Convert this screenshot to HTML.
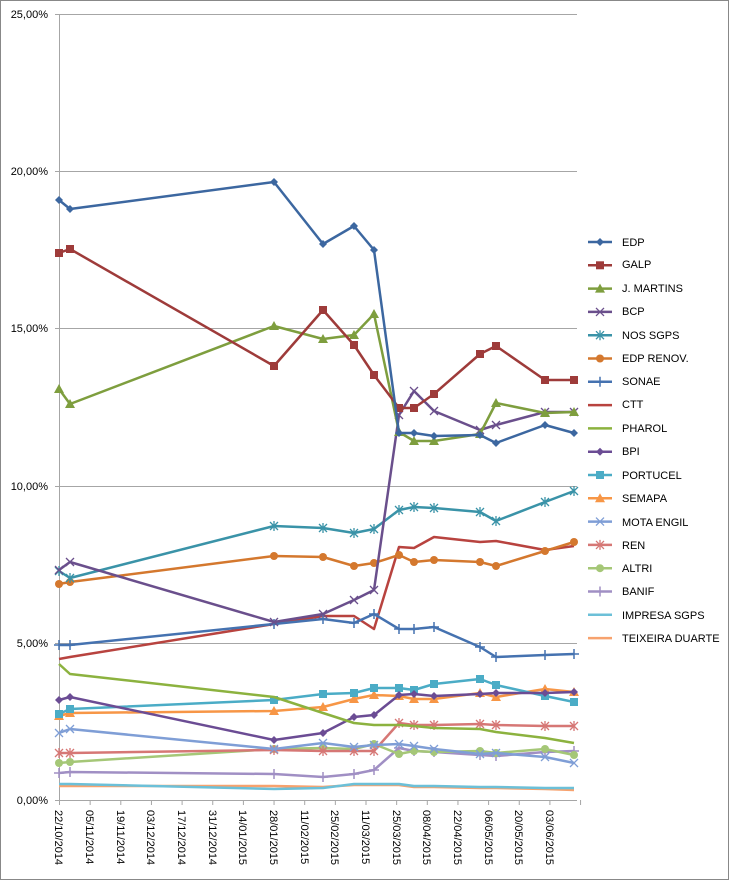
<!DOCTYPE html>
<html><head><meta charset="utf-8"><style>
html,body{margin:0;padding:0;background:#fff}
svg{display:block;font-family:"Liberation Sans",sans-serif}
</style></head><body>
<svg id="s" width="729" height="880" xmlns="http://www.w3.org/2000/svg">
<rect x="0.5" y="0.5" width="728" height="879" fill="#fff" stroke="#888"/>
<g stroke="#a6a6a6" stroke-width="1">
<line x1="55" y1="14.5" x2="577" y2="14.5"/>
<line x1="55" y1="171.5" x2="577" y2="171.5"/>
<line x1="55" y1="328.5" x2="577" y2="328.5"/>
<line x1="55" y1="486.5" x2="577" y2="486.5"/>
<line x1="55" y1="643.5" x2="577" y2="643.5"/>
<line x1="55" y1="800.5" x2="577" y2="800.5"/>
<line x1="59.5" y1="14" x2="59.5" y2="805"/>
</g>
<g id="ticks" stroke="#a6a6a6"></g>
<g font-size="11" fill="#000" text-anchor="end">
<text x="48" y="18">25,00%</text>
<text x="48" y="175">20,00%</text>
<text x="48" y="332">15,00%</text>
<text x="48" y="490">10,00%</text>
<text x="48" y="647">5,00%</text>
<text x="48" y="804">0,00%</text>
</g>
<g font-size="11" fill="#000">
<text transform="translate(55,810) rotate(90)">22/10/2014</text>
<text transform="translate(86,810) rotate(90)">05/11/2014</text>
<text transform="translate(117,810) rotate(90)">19/11/2014</text>
<text transform="translate(147,810) rotate(90)">03/12/2014</text>
<text transform="translate(178,810) rotate(90)">17/12/2014</text>
<text transform="translate(209,810) rotate(90)">31/12/2014</text>
<text transform="translate(239,810) rotate(90)">14/01/2015</text>
<text transform="translate(270,810) rotate(90)">28/01/2015</text>
<text transform="translate(301,810) rotate(90)">11/02/2015</text>
<text transform="translate(331,810) rotate(90)">25/02/2015</text>
<text transform="translate(362,810) rotate(90)">11/03/2015</text>
<text transform="translate(393,810) rotate(90)">25/03/2015</text>
<text transform="translate(423,810) rotate(90)">08/04/2015</text>
<text transform="translate(454,810) rotate(90)">22/04/2015</text>
<text transform="translate(485,810) rotate(90)">06/05/2015</text>
<text transform="translate(515,810) rotate(90)">20/05/2015</text>
<text transform="translate(546,810) rotate(90)">03/06/2015</text>
</g>
<g id="series"></g>
<g id="legend" font-size="11" fill="#000">
<text x="622" y="246">EDP</text>
<text x="622" y="268">GALP</text>
<text x="622" y="292">J. MARTINS</text>
<text x="622" y="315">BCP</text>
<text x="622" y="339">NOS SGPS</text>
<text x="622" y="362">EDP RENOV.</text>
<text x="622" y="385">SONAE</text>
<text x="622" y="408">CTT</text>
<text x="622" y="432">PHAROL</text>
<text x="622" y="455">BPI</text>
<text x="622" y="479">PORTUCEL</text>
<text x="622" y="502">SEMAPA</text>
<text x="622" y="526">MOTA ENGIL</text>
<text x="622" y="549">REN</text>
<text x="622" y="572">ALTRI</text>
<text x="622" y="595">BANIF</text>
<text x="622" y="619">IMPRESA SGPS</text>
<text x="622" y="642">TEIXEIRA DUARTE</text>
</g>
</svg>
<script>
var NS="http://www.w3.org/2000/svg";
var X=[59,70,274,323,354,374,399,414,434,480,496,545,574];
var S=[
["#3C67A0","d",[200,209,182,244,226,250,433,433,436,435,443,425,433]],
["#9E3B3A","s",[253,249,366,310,345,375,408,408,394,354,346,380,380]],
["#7E9E3E","t",[389,404,326,339,335,314,432,441,441,434,403,413,412]],
["#6A4F8C","x",[570,562,622,614,600,590,415,391,411,430,425,412,412]],
["#3A93A8","a",[571,578,526,528,533,529,510,507,508,512,521,502,491]],
["#D4782E","c",[584,582,556,557,566,563,555,562,560,562,566,551,542]],
["#4572B0","p",[645,645,624,619,623,614,629,629,627,647,657,655,654]],
["#B8433F","n",[659,657,624,616,616,629,547,548,537,542,541,550,546]],
["#8CB23F","n",[664,674,697,713,723,725,725,726,728,729,732,738,743]],
["#6B4C94","d",[700,697,740,733,717,715,695,694,696,694,693,693,692]],
["#4BACC6","s",[714,709,700,694,693,688,688,690,684,679,685,696,702]],
["#F79646","t",[716,713,711,707,699,695,696,699,699,693,697,689,692]],
["#7F9ED6","x",[733,729,749,743,747,745,744,746,749,754,753,757,763]],
["#D67775","a",[753,753,750,751,751,751,723,725,725,724,725,726,726]],
["#A5C777","c",[763,762,749,748,749,744,754,751,752,751,753,749,755]],
["#A08FC4","p",[773,772,774,777,774,770,748,751,752,755,756,752,751]],
["#6CC0D8","n",[784,784,789,788,784,784,784,786,786,787,787,788,788]],
["#F7A26E","n",[786,786,786,787,785,785,785,787,787,788,788,789,790]]
];
var g=document.getElementById("series");
function el(n,a){var e=document.createElementNS(NS,n);for(var k in a)e.setAttribute(k,a[k]);return e;}
function mark(m,c,x,y,par){
 if(m=="d")par.appendChild(el("polygon",{points:(x)+","+(y-4)+" "+(x+4)+","+y+" "+x+","+(y+4)+" "+(x-4)+","+y,fill:c}));
 else if(m=="s")par.appendChild(el("rect",{x:x-4,y:y-4,width:8,height:8,fill:c}));
 else if(m=="t")par.appendChild(el("polygon",{points:x+","+(y-5)+" "+(x+5)+","+(y+4)+" "+(x-5)+","+(y+4),fill:c}));
 else if(m=="c")par.appendChild(el("circle",{cx:x,cy:y,r:4,fill:c}));
 else if(m=="x"){par.appendChild(el("path",{d:"M"+(x-4)+","+(y-4)+"L"+(x+4)+","+(y+4)+"M"+(x+4)+","+(y-4)+"L"+(x-4)+","+(y+4),stroke:c,"stroke-width":1.3}));}
 else if(m=="a"){par.appendChild(el("path",{d:"M"+(x-4)+","+(y-4)+"L"+(x+4)+","+(y+4)+"M"+(x+4)+","+(y-4)+"L"+(x-4)+","+(y+4)+"M"+x+","+(y-5)+"L"+x+","+(y+5),stroke:c,"stroke-width":1.3}));}
 else if(m=="p"){par.appendChild(el("path",{d:"M"+x+","+(y-5)+"L"+x+","+(y+5)+"M"+(x-5)+","+y+"L"+(x+5)+","+y,stroke:c,"stroke-width":1.5}));}
}
for(var i=S.length-1;i>=0;i--){
 var s=S[i],pts=[];
 for(var j=0;j<X.length;j++)pts.push(X[j]+","+s[2][j]);
 g.appendChild(el("polyline",{points:pts.join(" "),fill:"none",stroke:s[0],"stroke-width":2.5,"stroke-linejoin":"round"}));
 for(var j=0;j<X.length;j++)mark(s[1],s[0],X[j],s[2][j],g);
 var ly=242+i*23.3;
 var lg=document.getElementById("legend");
 lg.appendChild(el("line",{x1:588,y1:ly,x2:612,y2:ly,stroke:s[0],"stroke-width":2.5}));
 mark(s[1],s[0],600,ly,lg);
}
var t=document.getElementById("ticks");
for(var k=0;k<18;k++){var x=59.5+k*30.65;t.appendChild(el("line",{x1:x,y1:800,x2:x,y2:805}));}
</script>
</body></html>
